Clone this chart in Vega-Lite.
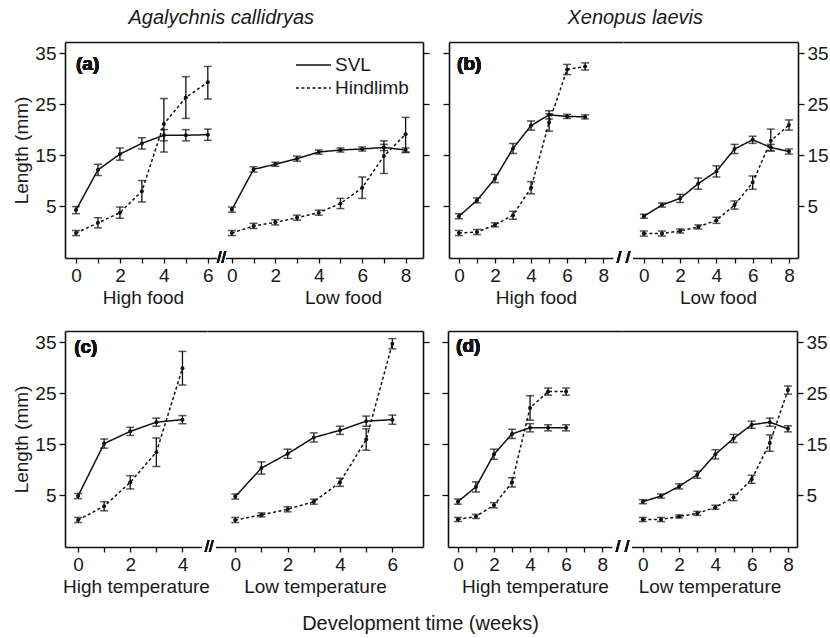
{
  "$schema": "https://vega.github.io/schema/vega-lite/v6.json",
  "padding": {"left": 12, "top": 8, "right": 2, "bottom": 0},
  "datasets": {
    "aH": [
      {"s":"SVL","w":0,"v":4.2,"lo":3.5,"hi":4.9},{"s":"SVL","w":1,"v":12.1,"lo":11.0,"hi":13.2},{"s":"SVL","w":2,"v":15.2,"lo":14.0,"hi":16.4},{"s":"SVL","w":3,"v":17.3,"lo":16.2,"hi":18.4},{"s":"SVL","w":4,"v":18.9,"lo":17.8,"hi":20.0},{"s":"SVL","w":5,"v":18.9,"lo":17.8,"hi":20.0},{"s":"SVL","w":6,"v":19.0,"lo":17.9,"hi":20.1},
      {"s":"Hindlimb","w":0,"v":-0.3,"lo":-0.8,"hi":0.2},{"s":"Hindlimb","w":1,"v":1.7,"lo":0.7,"hi":2.7},{"s":"Hindlimb","w":2,"v":3.7,"lo":2.6,"hi":4.8},{"s":"Hindlimb","w":3,"v":7.9,"lo":5.8,"hi":10.0},{"s":"Hindlimb","w":4,"v":21.1,"lo":15.6,"hi":26.1},{"s":"Hindlimb","w":5,"v":26.3,"lo":22.2,"hi":30.4},{"s":"Hindlimb","w":6,"v":29.3,"lo":26.0,"hi":32.4}
    ],
    "aL": [
      {"s":"SVL","w":0,"v":4.3,"lo":3.8,"hi":4.8},{"s":"SVL","w":1,"v":12.2,"lo":11.7,"hi":12.7},{"s":"SVL","w":2,"v":13.2,"lo":12.8,"hi":13.6},{"s":"SVL","w":3,"v":14.3,"lo":13.8,"hi":14.8},{"s":"SVL","w":4,"v":15.6,"lo":15.2,"hi":16.0},{"s":"SVL","w":5,"v":16.0,"lo":15.6,"hi":16.4},{"s":"SVL","w":6,"v":16.2,"lo":15.8,"hi":16.6},{"s":"SVL","w":7,"v":16.5,"lo":15.9,"hi":17.1},{"s":"SVL","w":8,"v":16.0,"lo":15.6,"hi":16.4},
      {"s":"Hindlimb","w":0,"v":-0.3,"lo":-0.8,"hi":0.2},{"s":"Hindlimb","w":1,"v":1.1,"lo":0.6,"hi":1.6},{"s":"Hindlimb","w":2,"v":1.8,"lo":1.3,"hi":2.3},{"s":"Hindlimb","w":3,"v":2.7,"lo":2.2,"hi":3.2},{"s":"Hindlimb","w":4,"v":3.7,"lo":3.2,"hi":4.2},{"s":"Hindlimb","w":5,"v":5.5,"lo":4.5,"hi":6.5},{"s":"Hindlimb","w":6,"v":8.6,"lo":6.5,"hi":10.7},{"s":"Hindlimb","w":7,"v":14.8,"lo":11.4,"hi":17.8},{"s":"Hindlimb","w":8,"v":19.1,"lo":15.5,"hi":22.4}
    ],
    "bH": [
      {"s":"SVL","w":0,"v":3.0,"lo":2.5,"hi":3.5},{"s":"SVL","w":1,"v":6.1,"lo":5.6,"hi":6.6},{"s":"SVL","w":2,"v":10.4,"lo":9.6,"hi":11.2},{"s":"SVL","w":3,"v":16.3,"lo":15.3,"hi":17.3},{"s":"SVL","w":4,"v":20.8,"lo":19.9,"hi":21.7},{"s":"SVL","w":5,"v":22.9,"lo":22.1,"hi":23.7},{"s":"SVL","w":6,"v":22.6,"lo":22.2,"hi":23.0},{"s":"SVL","w":7,"v":22.5,"lo":22.1,"hi":22.9},
      {"s":"Hindlimb","w":0,"v":-0.3,"lo":-0.8,"hi":0.2},{"s":"Hindlimb","w":1,"v":-0.1,"lo":-0.6,"hi":0.4},{"s":"Hindlimb","w":2,"v":1.3,"lo":0.9,"hi":1.7},{"s":"Hindlimb","w":3,"v":3.2,"lo":2.4,"hi":4.0},{"s":"Hindlimb","w":4,"v":8.6,"lo":7.4,"hi":9.8},{"s":"Hindlimb","w":5,"v":21.4,"lo":19.7,"hi":23.1},{"s":"Hindlimb","w":6,"v":31.8,"lo":30.8,"hi":32.8},{"s":"Hindlimb","w":7,"v":32.4,"lo":31.7,"hi":33.1}
    ],
    "bL": [
      {"s":"SVL","w":0,"v":3.0,"lo":2.6,"hi":3.4},{"s":"SVL","w":1,"v":5.2,"lo":4.8,"hi":5.6},{"s":"SVL","w":2,"v":6.5,"lo":5.7,"hi":7.3},{"s":"SVL","w":3,"v":9.4,"lo":8.3,"hi":10.5},{"s":"SVL","w":4,"v":11.8,"lo":10.7,"hi":12.9},{"s":"SVL","w":5,"v":16.2,"lo":15.3,"hi":17.1},{"s":"SVL","w":6,"v":18.0,"lo":17.3,"hi":18.7},{"s":"SVL","w":7,"v":16.5,"lo":15.9,"hi":17.1},{"s":"SVL","w":8,"v":15.7,"lo":15.2,"hi":16.2},
      {"s":"Hindlimb","w":0,"v":-0.4,"lo":-0.9,"hi":0.1},{"s":"Hindlimb","w":1,"v":-0.4,"lo":-0.9,"hi":0.1},{"s":"Hindlimb","w":2,"v":0.1,"lo":-0.3,"hi":0.5},{"s":"Hindlimb","w":3,"v":0.9,"lo":0.5,"hi":1.3},{"s":"Hindlimb","w":4,"v":2.2,"lo":1.6,"hi":2.8},{"s":"Hindlimb","w":5,"v":5.2,"lo":4.4,"hi":6.0},{"s":"Hindlimb","w":6,"v":9.6,"lo":8.3,"hi":10.9},{"s":"Hindlimb","w":7,"v":17.8,"lo":15.8,"hi":20.1},{"s":"Hindlimb","w":8,"v":20.9,"lo":19.9,"hi":21.9}
    ],
    "cH": [
      {"s":"SVL","w":0,"v":4.8,"lo":4.3,"hi":5.3},{"s":"SVL","w":1,"v":15.1,"lo":14.2,"hi":16.0},{"s":"SVL","w":2,"v":17.5,"lo":16.7,"hi":18.3},{"s":"SVL","w":3,"v":19.3,"lo":18.5,"hi":20.1},{"s":"SVL","w":4,"v":19.8,"lo":19.0,"hi":20.6},
      {"s":"Hindlimb","w":0,"v":0.1,"lo":-0.4,"hi":0.6},{"s":"Hindlimb","w":1,"v":2.8,"lo":1.9,"hi":3.7},{"s":"Hindlimb","w":2,"v":7.5,"lo":6.2,"hi":8.8},{"s":"Hindlimb","w":3,"v":13.4,"lo":10.6,"hi":16.2},{"s":"Hindlimb","w":4,"v":29.9,"lo":26.6,"hi":33.2}
    ],
    "cL": [
      {"s":"SVL","w":0,"v":4.7,"lo":4.2,"hi":5.2},{"s":"SVL","w":1,"v":10.3,"lo":9.1,"hi":11.5},{"s":"SVL","w":2,"v":13.1,"lo":12.2,"hi":14.0},{"s":"SVL","w":3,"v":16.3,"lo":15.4,"hi":17.2},{"s":"SVL","w":4,"v":17.7,"lo":16.9,"hi":18.5},{"s":"SVL","w":5,"v":19.5,"lo":18.5,"hi":20.5},{"s":"SVL","w":6,"v":19.8,"lo":18.9,"hi":20.7},
      {"s":"Hindlimb","w":0,"v":0.1,"lo":-0.4,"hi":0.6},{"s":"Hindlimb","w":1,"v":1.1,"lo":0.7,"hi":1.5},{"s":"Hindlimb","w":2,"v":2.2,"lo":1.7,"hi":2.7},{"s":"Hindlimb","w":3,"v":3.7,"lo":3.2,"hi":4.2},{"s":"Hindlimb","w":4,"v":7.5,"lo":6.7,"hi":8.3},{"s":"Hindlimb","w":5,"v":15.9,"lo":13.8,"hi":18.0},{"s":"Hindlimb","w":6,"v":34.7,"lo":33.7,"hi":35.7}
    ],
    "dH": [
      {"s":"SVL","w":0,"v":3.7,"lo":3.2,"hi":4.2},{"s":"SVL","w":1,"v":6.6,"lo":5.6,"hi":7.6},{"s":"SVL","w":2,"v":13.0,"lo":12.0,"hi":14.0},{"s":"SVL","w":3,"v":17.0,"lo":16.1,"hi":17.9},{"s":"SVL","w":4,"v":18.2,"lo":17.4,"hi":19.0},{"s":"SVL","w":5,"v":18.2,"lo":17.6,"hi":18.8},{"s":"SVL","w":6,"v":18.2,"lo":17.6,"hi":18.8},
      {"s":"Hindlimb","w":0,"v":0.2,"lo":-0.2,"hi":0.6},{"s":"Hindlimb","w":1,"v":0.8,"lo":0.4,"hi":1.2},{"s":"Hindlimb","w":2,"v":3.0,"lo":2.5,"hi":3.5},{"s":"Hindlimb","w":3,"v":7.5,"lo":6.6,"hi":8.4},{"s":"Hindlimb","w":4,"v":22.1,"lo":19.7,"hi":24.5},{"s":"Hindlimb","w":5,"v":25.3,"lo":24.6,"hi":26.0},{"s":"Hindlimb","w":6,"v":25.3,"lo":24.6,"hi":26.0}
    ],
    "dL": [
      {"s":"SVL","w":0,"v":3.7,"lo":3.3,"hi":4.1},{"s":"SVL","w":1,"v":4.8,"lo":4.4,"hi":5.2},{"s":"SVL","w":2,"v":6.7,"lo":6.2,"hi":7.2},{"s":"SVL","w":3,"v":9.0,"lo":8.3,"hi":9.7},{"s":"SVL","w":4,"v":13.0,"lo":12.1,"hi":13.9},{"s":"SVL","w":5,"v":16.1,"lo":15.3,"hi":16.9},{"s":"SVL","w":6,"v":18.8,"lo":18.1,"hi":19.5},{"s":"SVL","w":7,"v":19.3,"lo":18.5,"hi":20.1},{"s":"SVL","w":8,"v":18.0,"lo":17.4,"hi":18.6},
      {"s":"Hindlimb","w":0,"v":0.2,"lo":-0.2,"hi":0.6},{"s":"Hindlimb","w":1,"v":0.2,"lo":-0.2,"hi":0.6},{"s":"Hindlimb","w":2,"v":0.8,"lo":0.5,"hi":1.1},{"s":"Hindlimb","w":3,"v":1.4,"lo":1.0,"hi":1.8},{"s":"Hindlimb","w":4,"v":2.6,"lo":2.2,"hi":3.0},{"s":"Hindlimb","w":5,"v":4.5,"lo":3.9,"hi":5.1},{"s":"Hindlimb","w":6,"v":8.1,"lo":7.3,"hi":8.9},{"s":"Hindlimb","w":7,"v":15.2,"lo":13.6,"hi":16.8},{"s":"Hindlimb","w":8,"v":25.6,"lo":24.8,"hi":26.4}
    ]
  },
  "title": {"text": "Development time (weeks)", "orient": "bottom", "anchor": "middle", "fontSize": 20, "offset": 18},
  "spacing": 24,
  "resolve": {"scale": {"strokeDash": "independent"}, "legend": {"strokeDash": "independent"}},
  "vconcat": [
    {
      "spacing": 12,
      "resolve": {"scale": {"strokeDash": "independent"}, "legend": {"strokeDash": "independent"}},
      "hconcat": [
        {
          "title": {"text": "Agalychnis callidryas", "fontStyle": "italic", "anchor": "middle", "offset": 14},
          "bounds": "flush",
          "spacing": 0,
          "resolve": {"scale": {"strokeDash": "independent"}, "legend": {"strokeDash": "independent"}},
          "hconcat": [
            {
              "width": 156, "height": 216,
              "data": {"name": "aH"},
              "resolve": {"axis": {"x": "independent"}},
              "layer": [
                {"mark": {"type": "line", "color": "#111", "strokeWidth": 1.5},
                 "encoding": {
                   "x": {"field": "w", "type": "quantitative", "scale": {"domain": [-0.5, 6.6], "nice": false, "zero": false}, "axis": {"orient": "bottom", "values": [0,1,2,3,4,5,6], "labelExpr": "datum.value % 2 === 0 ? datum.label : ''", "title": "High food"}},
                   "y": {"field": "v", "type": "quantitative", "scale": {"domain": [-5.2, 37.2], "nice": false, "zero": false}, "axis": {"orient": "left", "values": [5,15,25,35], "title": "Length (mm)", "tickSize": 6}},
                   "strokeDash": {"field": "s", "type": "nominal", "scale": {"domain": ["SVL","Hindlimb"], "range": [[1,0],[3,2.5]]}, "legend": null}
                 }},
                {"mark": {"type": "rule", "color": "#111", "strokeWidth": 1.3},
                 "encoding": {"x": {"field": "w", "type": "quantitative", "axis": null}, "y": {"field": "lo", "type": "quantitative"}, "y2": {"field": "hi"}}},
                {"mark": {"type": "tick", "orient": "horizontal", "color": "#111", "size": 8, "thickness": 1.5},
                 "encoding": {"x": {"field": "w", "type": "quantitative", "axis": null}, "y": {"field": "lo", "type": "quantitative"}}},
                {"mark": {"type": "tick", "orient": "horizontal", "color": "#111", "size": 8, "thickness": 1.5},
                 "encoding": {"x": {"field": "w", "type": "quantitative", "axis": null}, "y": {"field": "hi", "type": "quantitative"}}},
                {"mark": {"type": "point", "filled": true, "size": 16, "color": "#111", "opacity": 1},
                 "encoding": {"x": {"field": "w", "type": "quantitative", "axis": {"orient": "top", "labels": false, "ticks": false, "title": null}}, "y": {"field": "v", "type": "quantitative"}}},
                {"mark": {"type": "text", "text": "(a)", "fontWeight": "bold", "fontSize": 19, "align": "left", "baseline": "middle", "color": "#111"},
                 "encoding": {"x": {"datum": 0, "axis": null}, "y": {"datum": 32.9}}}
              ]
            },
            {
              "width": 202, "height": 216,
              "data": {"name": "aL"},
              "resolve": {"axis": {"x": "independent"}},
              "layer": [
                {"mark": {"type": "line", "color": "#111", "strokeWidth": 1.5},
                 "encoding": {
                   "x": {"field": "w", "type": "quantitative", "scale": {"domain": [-0.5, 8.8], "nice": false, "zero": false}, "axis": {"orient": "bottom", "values": [0,1,2,3,4,5,6,7,8], "labelExpr": "datum.value % 2 === 0 ? datum.label : ''", "title": "Low food", "titleX": 122}},
                   "y": {"field": "v", "type": "quantitative", "scale": {"domain": [-5.2, 37.2], "nice": false, "zero": false}, "axis": {"orient": "right", "values": [5,15,25,35], "labels": false, "title": null, "tickSize": 6}},
                   "strokeDash": {"field": "s", "type": "nominal", "scale": {"domain": ["SVL","Hindlimb"], "range": [[1,0],[3,2.5]]},
                     "legend": {"orient": "none", "legendX": 74, "legendY": 13, "title": null, "symbolType": "stroke", "symbolSize": 1225, "symbolStrokeWidth": 1.5, "symbolStrokeColor": "#111", "labelFontSize": 19, "labelColor": "#1a1a1a", "labelOffset": 3, "clipHeight": 20, "rowPadding": 3, "padding": 0}}
                 }},
                {"mark": {"type": "rule", "color": "#111", "strokeWidth": 1.3},
                 "encoding": {"x": {"field": "w", "type": "quantitative", "axis": null}, "y": {"field": "lo", "type": "quantitative"}, "y2": {"field": "hi"}}},
                {"mark": {"type": "tick", "orient": "horizontal", "color": "#111", "size": 8, "thickness": 1.5},
                 "encoding": {"x": {"field": "w", "type": "quantitative", "axis": null}, "y": {"field": "lo", "type": "quantitative"}}},
                {"mark": {"type": "tick", "orient": "horizontal", "color": "#111", "size": 8, "thickness": 1.5},
                 "encoding": {"x": {"field": "w", "type": "quantitative", "axis": null}, "y": {"field": "hi", "type": "quantitative"}}},
                {"mark": {"type": "point", "filled": true, "size": 16, "color": "#111", "opacity": 1},
                 "encoding": {"x": {"field": "w", "type": "quantitative", "axis": {"orient": "top", "labels": false, "ticks": false, "title": null}}, "y": {"field": "v", "type": "quantitative"}}},
                {"mark": {"type": "rule", "color": "white", "strokeWidth": 5},
                 "encoding": {"x": {"datum": -0.68, "axis": null}, "x2": {"datum": -0.27}, "y": {"datum": -5.2}}},
                {"mark": {"type": "text", "text": "//", "fontSize": 16, "align": "center", "baseline": "middle", "color": "#111"},
                 "encoding": {"x": {"datum": -0.48, "axis": null}, "y": {"datum": -5.2}}}
              ]
            }
          ]
        },
        {
          "title": {"text": "Xenopus laevis", "fontStyle": "italic", "anchor": "middle", "offset": 14},
          "bounds": "flush",
          "spacing": 0,
          "resolve": {"scale": {"strokeDash": "independent"}, "legend": {"strokeDash": "independent"}},
          "hconcat": [
            {
              "width": 174, "height": 216,
              "data": {"name": "bH"},
              "resolve": {"axis": {"x": "independent"}},
              "layer": [
                {"mark": {"type": "line", "color": "#111", "strokeWidth": 1.5},
                 "encoding": {
                   "x": {"field": "w", "type": "quantitative", "scale": {"domain": [-0.55, 9.1], "nice": false, "zero": false}, "axis": {"orient": "bottom", "values": [0,1,2,3,4,5,6,7,8], "labelExpr": "datum.value % 2 === 0 ? datum.label : ''", "title": "High food"}},
                   "y": {"field": "v", "type": "quantitative", "scale": {"domain": [-5.2, 37.2], "nice": false, "zero": false}, "axis": {"orient": "left", "values": [5,15,25,35], "labels": false, "title": null, "tickSize": 6}},
                   "strokeDash": {"field": "s", "type": "nominal", "scale": {"domain": ["SVL","Hindlimb"], "range": [[1,0],[3,2.5]]}, "legend": null}
                 }},
                {"mark": {"type": "rule", "color": "#111", "strokeWidth": 1.3},
                 "encoding": {"x": {"field": "w", "type": "quantitative", "axis": null}, "y": {"field": "lo", "type": "quantitative"}, "y2": {"field": "hi"}}},
                {"mark": {"type": "tick", "orient": "horizontal", "color": "#111", "size": 8, "thickness": 1.5},
                 "encoding": {"x": {"field": "w", "type": "quantitative", "axis": null}, "y": {"field": "lo", "type": "quantitative"}}},
                {"mark": {"type": "tick", "orient": "horizontal", "color": "#111", "size": 8, "thickness": 1.5},
                 "encoding": {"x": {"field": "w", "type": "quantitative", "axis": null}, "y": {"field": "hi", "type": "quantitative"}}},
                {"mark": {"type": "point", "filled": true, "size": 16, "color": "#111", "opacity": 1},
                 "encoding": {"x": {"field": "w", "type": "quantitative", "axis": {"orient": "top", "labels": false, "ticks": false, "title": null}}, "y": {"field": "v", "type": "quantitative"}}},
                {"mark": {"type": "text", "text": "(b)", "fontWeight": "bold", "fontSize": 19, "align": "left", "baseline": "middle", "color": "#111"},
                 "encoding": {"x": {"datum": -0.1, "axis": null}, "y": {"datum": 32.9}}}
              ]
            },
            {
              "width": 175, "height": 216,
              "data": {"name": "bL"},
              "resolve": {"axis": {"x": "independent"}},
              "layer": [
                {"mark": {"type": "line", "color": "#111", "strokeWidth": 1.5},
                 "encoding": {
                   "x": {"field": "w", "type": "quantitative", "scale": {"domain": [-1.15, 8.5], "nice": false, "zero": false}, "axis": {"orient": "bottom", "values": [0,1,2,3,4,5,6,7,8], "labelExpr": "datum.value % 2 === 0 ? datum.label : ''", "title": "Low food", "titleX": 95}},
                   "y": {"field": "v", "type": "quantitative", "scale": {"domain": [-5.2, 37.2], "nice": false, "zero": false}, "axis": {"orient": "right", "values": [5,15,25,35], "title": null, "tickSize": 6}},
                   "strokeDash": {"field": "s", "type": "nominal", "scale": {"domain": ["SVL","Hindlimb"], "range": [[1,0],[3,2.5]]}, "legend": null}
                 }},
                {"mark": {"type": "rule", "color": "#111", "strokeWidth": 1.3},
                 "encoding": {"x": {"field": "w", "type": "quantitative", "axis": null}, "y": {"field": "lo", "type": "quantitative"}, "y2": {"field": "hi"}}},
                {"mark": {"type": "tick", "orient": "horizontal", "color": "#111", "size": 8, "thickness": 1.5},
                 "encoding": {"x": {"field": "w", "type": "quantitative", "axis": null}, "y": {"field": "lo", "type": "quantitative"}}},
                {"mark": {"type": "tick", "orient": "horizontal", "color": "#111", "size": 8, "thickness": 1.5},
                 "encoding": {"x": {"field": "w", "type": "quantitative", "axis": null}, "y": {"field": "hi", "type": "quantitative"}}},
                {"mark": {"type": "point", "filled": true, "size": 16, "color": "#111", "opacity": 1},
                 "encoding": {"x": {"field": "w", "type": "quantitative", "axis": {"orient": "top", "labels": false, "ticks": false, "title": null}}, "y": {"field": "v", "type": "quantitative"}}},
                {"mark": {"type": "rule", "color": "white", "strokeWidth": 5},
                 "encoding": {"x": {"datum": -1.65, "axis": null}, "x2": {"datum": -0.6}, "y": {"datum": -5.2}}},
                {"mark": {"type": "text", "text": "/ /", "fontSize": 16, "align": "center", "baseline": "middle", "color": "#111"},
                 "encoding": {"x": {"datum": -1.12, "axis": null}, "y": {"datum": -5.2}}}
              ]
            }
          ]
        }
      ]
    },
    {
      "spacing": 11,
      "resolve": {"scale": {"strokeDash": "independent"}, "legend": {"strokeDash": "independent"}},
      "hconcat": [
        {
          "bounds": "flush",
          "spacing": 0,
          "resolve": {"scale": {"strokeDash": "independent"}, "legend": {"strokeDash": "independent"}},
          "hconcat": [
            {
              "width": 142, "height": 216,
              "data": {"name": "cH"},
              "resolve": {"axis": {"x": "independent"}},
              "layer": [
                {"mark": {"type": "line", "color": "#111", "strokeWidth": 1.5},
                 "encoding": {
                   "x": {"field": "w", "type": "quantitative", "scale": {"domain": [-0.5, 4.94], "nice": false, "zero": false}, "axis": {"orient": "bottom", "values": [0,1,2,3,4], "labelExpr": "datum.value % 2 === 0 ? datum.label : ''", "title": "High temperature"}},
                   "y": {"field": "v", "type": "quantitative", "scale": {"domain": [-5.2, 37.2], "nice": false, "zero": false}, "axis": {"orient": "left", "values": [5,15,25,35], "title": "Length (mm)", "tickSize": 6}},
                   "strokeDash": {"field": "s", "type": "nominal", "scale": {"domain": ["SVL","Hindlimb"], "range": [[1,0],[3,2.5]]}, "legend": null}
                 }},
                {"mark": {"type": "rule", "color": "#111", "strokeWidth": 1.3},
                 "encoding": {"x": {"field": "w", "type": "quantitative", "axis": null}, "y": {"field": "lo", "type": "quantitative"}, "y2": {"field": "hi"}}},
                {"mark": {"type": "tick", "orient": "horizontal", "color": "#111", "size": 8, "thickness": 1.5},
                 "encoding": {"x": {"field": "w", "type": "quantitative", "axis": null}, "y": {"field": "lo", "type": "quantitative"}}},
                {"mark": {"type": "tick", "orient": "horizontal", "color": "#111", "size": 8, "thickness": 1.5},
                 "encoding": {"x": {"field": "w", "type": "quantitative", "axis": null}, "y": {"field": "hi", "type": "quantitative"}}},
                {"mark": {"type": "point", "filled": true, "size": 16, "color": "#111", "opacity": 1},
                 "encoding": {"x": {"field": "w", "type": "quantitative", "axis": {"orient": "top", "labels": false, "ticks": false, "title": null}}, "y": {"field": "v", "type": "quantitative"}}},
                {"mark": {"type": "text", "text": "(c)", "fontWeight": "bold", "fontSize": 19, "align": "left", "baseline": "middle", "color": "#111"},
                 "encoding": {"x": {"datum": -0.15, "axis": null}, "y": {"datum": 34.1}}}
              ]
            },
            {
              "width": 216, "height": 216,
              "data": {"name": "cL"},
              "resolve": {"axis": {"x": "independent"}},
              "layer": [
                {"mark": {"type": "line", "color": "#111", "strokeWidth": 1.5},
                 "encoding": {
                   "x": {"field": "w", "type": "quantitative", "scale": {"domain": [-1.08, 7.17], "nice": false, "zero": false}, "axis": {"orient": "bottom", "values": [0,1,2,3,4,5,6], "labelExpr": "datum.value % 2 === 0 ? datum.label : ''", "title": "Low temperature"}},
                   "y": {"field": "v", "type": "quantitative", "scale": {"domain": [-5.2, 37.2], "nice": false, "zero": false}, "axis": {"orient": "right", "values": [5,15,25,35], "labels": false, "title": null, "tickSize": 6}},
                   "strokeDash": {"field": "s", "type": "nominal", "scale": {"domain": ["SVL","Hindlimb"], "range": [[1,0],[3,2.5]]}, "legend": null}
                 }},
                {"mark": {"type": "rule", "color": "#111", "strokeWidth": 1.3},
                 "encoding": {"x": {"field": "w", "type": "quantitative", "axis": null}, "y": {"field": "lo", "type": "quantitative"}, "y2": {"field": "hi"}}},
                {"mark": {"type": "tick", "orient": "horizontal", "color": "#111", "size": 8, "thickness": 1.5},
                 "encoding": {"x": {"field": "w", "type": "quantitative", "axis": null}, "y": {"field": "lo", "type": "quantitative"}}},
                {"mark": {"type": "tick", "orient": "horizontal", "color": "#111", "size": 8, "thickness": 1.5},
                 "encoding": {"x": {"field": "w", "type": "quantitative", "axis": null}, "y": {"field": "hi", "type": "quantitative"}}},
                {"mark": {"type": "point", "filled": true, "size": 16, "color": "#111", "opacity": 1},
                 "encoding": {"x": {"field": "w", "type": "quantitative", "axis": {"orient": "top", "labels": false, "ticks": false, "title": null}}, "y": {"field": "v", "type": "quantitative"}}},
                {"mark": {"type": "rule", "color": "white", "strokeWidth": 5},
                 "encoding": {"x": {"datum": -1.27, "axis": null}, "x2": {"datum": -0.74}, "y": {"datum": -5.2}}},
                {"mark": {"type": "text", "text": "//", "fontSize": 16, "align": "center", "baseline": "middle", "color": "#111"},
                 "encoding": {"x": {"datum": -1.0, "axis": null}, "y": {"datum": -5.2}}}
              ]
            }
          ]
        },
        {
          "bounds": "flush",
          "spacing": 0,
          "resolve": {"scale": {"strokeDash": "independent"}, "legend": {"strokeDash": "independent"}},
          "hconcat": [
            {
              "width": 174, "height": 216,
              "data": {"name": "dH"},
              "resolve": {"axis": {"x": "independent"}},
              "layer": [
                {"mark": {"type": "line", "color": "#111", "strokeWidth": 1.5},
                 "encoding": {
                   "x": {"field": "w", "type": "quantitative", "scale": {"domain": [-0.55, 9.1], "nice": false, "zero": false}, "axis": {"orient": "bottom", "values": [0,1,2,3,4,5,6,7,8], "labelExpr": "datum.value % 2 === 0 ? datum.label : ''", "title": "High temperature"}},
                   "y": {"field": "v", "type": "quantitative", "scale": {"domain": [-5.2, 37.2], "nice": false, "zero": false}, "axis": {"orient": "left", "values": [5,15,25,35], "labels": false, "title": null, "tickSize": 6}},
                   "strokeDash": {"field": "s", "type": "nominal", "scale": {"domain": ["SVL","Hindlimb"], "range": [[1,0],[3,2.5]]}, "legend": null}
                 }},
                {"mark": {"type": "rule", "color": "#111", "strokeWidth": 1.3},
                 "encoding": {"x": {"field": "w", "type": "quantitative", "axis": null}, "y": {"field": "lo", "type": "quantitative"}, "y2": {"field": "hi"}}},
                {"mark": {"type": "tick", "orient": "horizontal", "color": "#111", "size": 8, "thickness": 1.5},
                 "encoding": {"x": {"field": "w", "type": "quantitative", "axis": null}, "y": {"field": "lo", "type": "quantitative"}}},
                {"mark": {"type": "tick", "orient": "horizontal", "color": "#111", "size": 8, "thickness": 1.5},
                 "encoding": {"x": {"field": "w", "type": "quantitative", "axis": null}, "y": {"field": "hi", "type": "quantitative"}}},
                {"mark": {"type": "point", "filled": true, "size": 16, "color": "#111", "opacity": 1},
                 "encoding": {"x": {"field": "w", "type": "quantitative", "axis": {"orient": "top", "labels": false, "ticks": false, "title": null}}, "y": {"field": "v", "type": "quantitative"}}},
                {"mark": {"type": "text", "text": "(d)", "fontWeight": "bold", "fontSize": 19, "align": "left", "baseline": "middle", "color": "#111"},
                 "encoding": {"x": {"datum": -0.1, "axis": null}, "y": {"datum": 34.2}}}
              ]
            },
            {
              "width": 175, "height": 216,
              "data": {"name": "dL"},
              "resolve": {"axis": {"x": "independent"}},
              "layer": [
                {"mark": {"type": "line", "color": "#111", "strokeWidth": 1.5},
                 "encoding": {
                   "x": {"field": "w", "type": "quantitative", "scale": {"domain": [-1.15, 8.5], "nice": false, "zero": false}, "axis": {"orient": "bottom", "values": [0,1,2,3,4,5,6,7,8], "labelExpr": "datum.value % 2 === 0 ? datum.label : ''", "title": "Low temperature"}},
                   "y": {"field": "v", "type": "quantitative", "scale": {"domain": [-5.2, 37.2], "nice": false, "zero": false}, "axis": {"orient": "right", "values": [5,15,25,35], "title": null, "tickSize": 6}},
                   "strokeDash": {"field": "s", "type": "nominal", "scale": {"domain": ["SVL","Hindlimb"], "range": [[1,0],[3,2.5]]}, "legend": null}
                 }},
                {"mark": {"type": "rule", "color": "#111", "strokeWidth": 1.3},
                 "encoding": {"x": {"field": "w", "type": "quantitative", "axis": null}, "y": {"field": "lo", "type": "quantitative"}, "y2": {"field": "hi"}}},
                {"mark": {"type": "tick", "orient": "horizontal", "color": "#111", "size": 8, "thickness": 1.5},
                 "encoding": {"x": {"field": "w", "type": "quantitative", "axis": null}, "y": {"field": "lo", "type": "quantitative"}}},
                {"mark": {"type": "tick", "orient": "horizontal", "color": "#111", "size": 8, "thickness": 1.5},
                 "encoding": {"x": {"field": "w", "type": "quantitative", "axis": null}, "y": {"field": "hi", "type": "quantitative"}}},
                {"mark": {"type": "point", "filled": true, "size": 16, "color": "#111", "opacity": 1},
                 "encoding": {"x": {"field": "w", "type": "quantitative", "axis": {"orient": "top", "labels": false, "ticks": false, "title": null}}, "y": {"field": "v", "type": "quantitative"}}},
                {"mark": {"type": "rule", "color": "white", "strokeWidth": 5},
                 "encoding": {"x": {"datum": -1.65, "axis": null}, "x2": {"datum": -0.6}, "y": {"datum": -5.2}}},
                {"mark": {"type": "text", "text": "/ /", "fontSize": 16, "align": "center", "baseline": "middle", "color": "#111"},
                 "encoding": {"x": {"datum": -1.12, "axis": null}, "y": {"datum": -5.2}}}
              ]
            }
          ]
        }
      ]
    }
  ],
  "config": {
    "font": "Liberation Sans",
    "view": {"stroke": null},
    "axis": {"grid": false, "domainColor": "#111", "domainWidth": 1.6, "tickColor": "#111", "tickWidth": 1.3, "tickSize": 5, "labelFontSize": 19, "titleFontSize": 19, "titleFontWeight": "normal", "labelColor": "#1a1a1a", "titleColor": "#1a1a1a", "labelPadding": 3, "titlePadding": 3, "labelFont": "Liberation Sans", "titleFont": "Liberation Sans", "labelOverlap": false, "labelFlush": false},
    "title": {"font": "Liberation Sans", "fontWeight": "normal", "color": "#1a1a1a", "fontSize": 20}
  }
}
